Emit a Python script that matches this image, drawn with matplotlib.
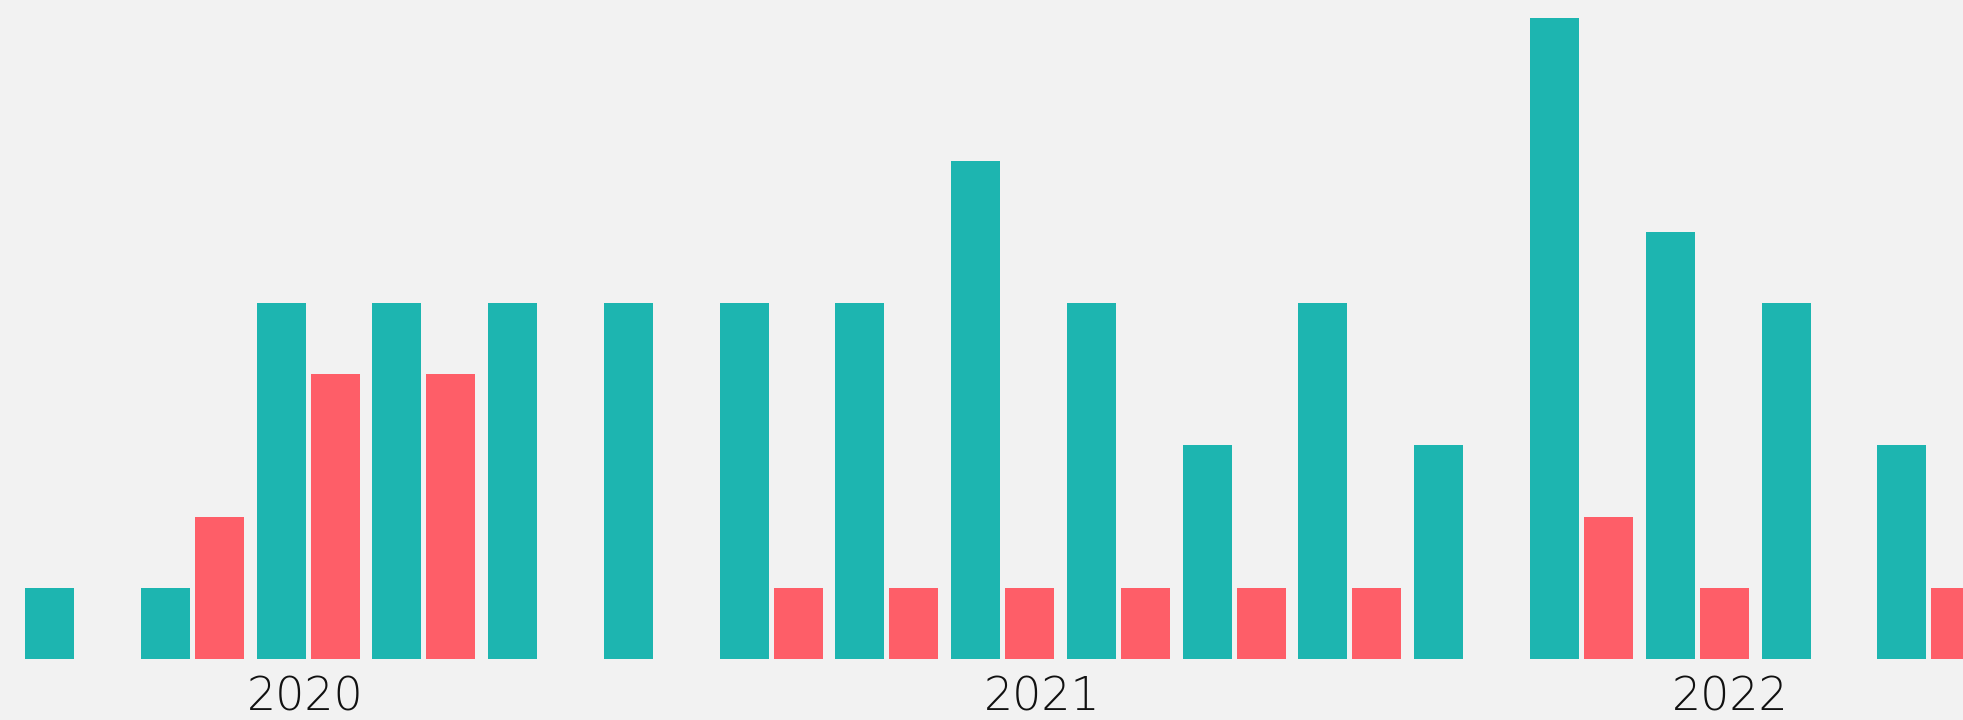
import numpy as np
import matplotlib
matplotlib.use('Agg')
import matplotlib.pyplot as plt

# one group per period, two series side by side
teal_values = [1, 1, 5, 5, 5, 5, 5, 5, 7, 5, 3, 5, 3, 9, 6, 5, 3]
red_values = [0, 2, 4, 4, 0, 0, 1, 1, 1, 1, 1, 1, 0, 2, 1, 0, 1]
year_ticks = [1.974, 8.34, 14.28]
year_labels = ['2020', '2021', '2022']

teal = '#1db5b0'
red = '#fe5e68'
bg = '#f2f2f2'

fig = plt.figure(figsize=(19.63, 7.2), dpi=100, facecolor=bg)
ax = fig.add_axes([0, 61 / 720, 1, 659 / 720])
ax.set_facecolor(bg)

x = np.arange(len(teal_values))
w = 0.4233
off = 0.2332
ax.bar(x - off, teal_values, width=w, color=teal, linewidth=0)
ax.bar(x + off, red_values, width=w, color=red, linewidth=0)

ax.set_xlim(-0.6608, 16.295)
ax.set_ylim(0, 659 / 71.2)

ax.set_xticks(year_ticks, year_labels)
ax.tick_params(axis='x', length=0, pad=12, labelsize=33, labelcolor='#111111')
for lab in ax.get_xticklabels():
    lab.set_fontfamily('DejaVu Sans')
    lab.set_fontweight('light')
ax.set_yticks([])
for s in ax.spines.values():
    s.set_visible(False)

fig.savefig('out.png', dpi=100, facecolor=bg)
